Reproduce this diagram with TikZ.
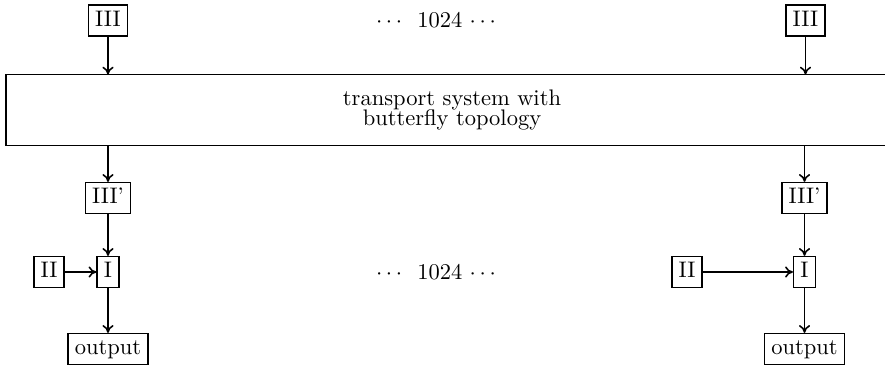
\documentclass[tikz,border=0pt]{standalone}
\usetikzlibrary{positioning, arrows.meta}
\tikzset{
  unit/.style={
    draw, line width=0.7pt,
    inner xsep=3pt, inner ysep=2.3pt,
    text height=7pt, text depth=2pt
  },
  signal/.style={-{To[length=3.5pt, width=5pt]}, line width=0.7pt, black},
  wire/.style={line width=0.7pt, black},
  count/.style={inner sep=0pt}
}

\begin{document}
\begin{tikzpicture}[x=0.4444pt, y=-0.4444pt]
\useasboundingbox (0,0) rectangle (885,367);

% Input units
\node[unit] (inL) at (108, 20.5) {III};
\node[unit] (inR) at (805.5, 20.5) {III};
\node[count] (topcount) at (436, 20) {$\cdots$~~1024 $\cdots$};

% Transport system (open to the right)
\node[minimum width=396pt, minimum height=31.1pt, align=center,
      font=\fontsize{10pt}{9.3pt}\selectfont] (bus) at (452, 110) {transport system with\\butterfly topology};
\coordinate (rim) at (885, 0);
\draw[wire] (rim |- bus.north) -- (bus.north west) -- (bus.south west) -- (rim |- bus.south);

% Left column
\node[unit] (recvL) at (108, 198) {III'};
\node[unit] (procL) at (108, 272) {I};
\node[unit] (srcL) at (49, 272) {II};
\node[unit] (outL) at (108, 349) {output};

% Right column
\node[unit] (recvR) at (804.5, 198) {III'};
\node[unit] (procR) at (804.5, 272) {I};
\node[unit] (srcR) at (687, 272) {II};
\node[unit] (outR) at (804.5, 349) {output};

\node[count] (botcount) at (436, 272) {$\cdots$~~1024 $\cdots$};

% Connections
\draw[signal] (inL) -- (inL |- bus.north);
\draw[signal] (inR) -- (inR |- bus.north);
\draw[signal] (bus.south -| recvL) -- (recvL);
\draw[signal] (bus.south -| recvR) -- (recvR);
\draw[signal] (recvL) -- (procL);
\draw[signal] (recvR) -- (procR);
\draw[signal] (srcL) -- (procL);
\draw[signal] (srcR) -- (procR);
\draw[signal] (procL) -- (outL);
\draw[signal] (procR) -- (outR);

\end{tikzpicture}
\end{document}
